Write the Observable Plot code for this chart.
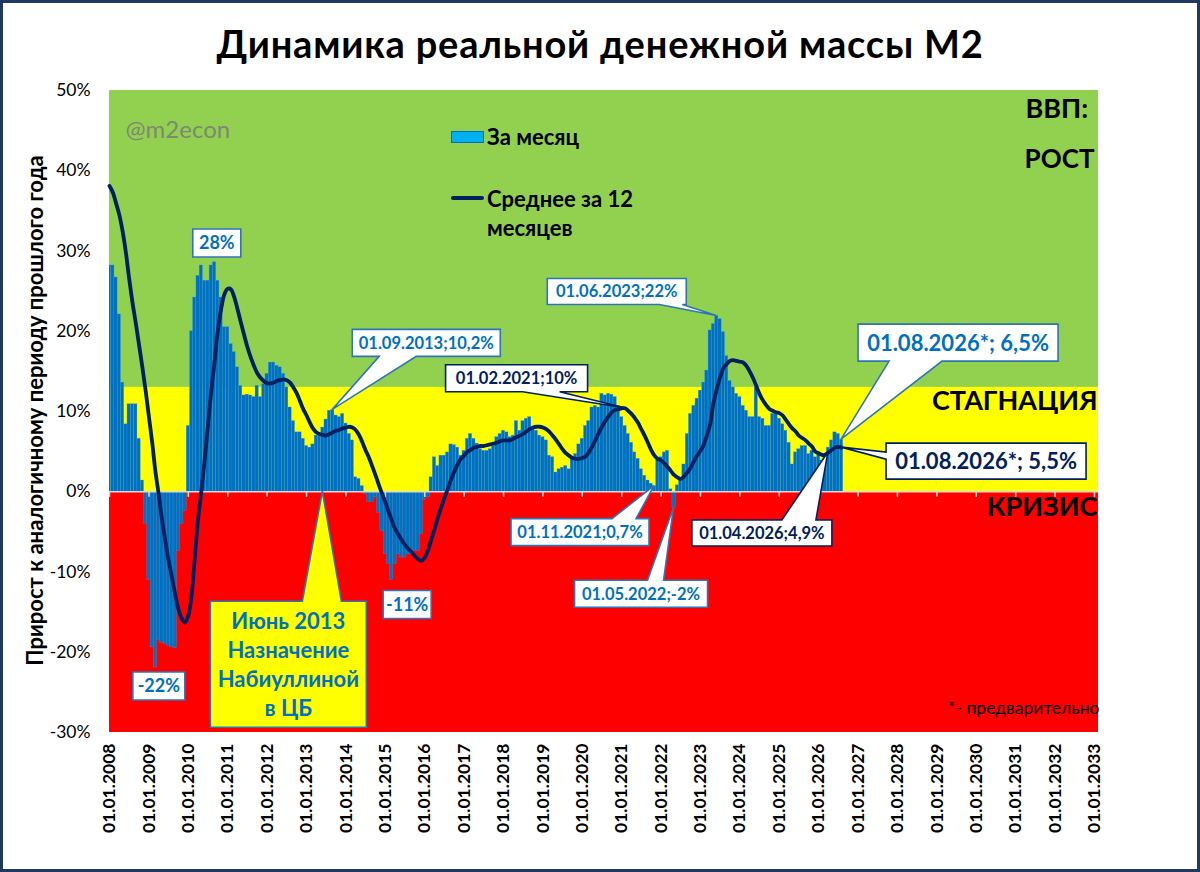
<!DOCTYPE html>
<html><head><meta charset="utf-8">
<script src="https://cdn.jsdelivr.net/npm/d3@7"></script>
<script src="https://cdn.jsdelivr.net/npm/@observablehq/plot@0.6"></script>
<style>
body{margin:0;background:#fff;}
#wrap{position:relative;width:1200px;height:872px;box-sizing:border-box;border:3px solid #1F3864;overflow:hidden;font-family:Lato,"Noto Sans",sans-serif;background:#fff;}
#chart{position:absolute;left:0;top:0;}
.abs{position:absolute;white-space:nowrap;}
#title{left:0;width:1194px;top:18px;text-align:center;font-weight:bold;font-size:38px;letter-spacing:0.8px;line-height:44px;color:#000;}
.lgtext{font-weight:bold;font-size:22px;line-height:24px;color:#000;}
</style></head>
<body><div id="wrap">
<div id="chart"></div>
<div class="abs" id="title">Динамика реальной денежной массы М2</div>
<div class="abs" style="left:448px;top:128px;width:33px;height:12px;background:#00B0F0;border:1px solid #0070C0;box-sizing:border-box;"></div>
<div class="abs lgtext" style="left:484px;top:122px;">За месяц</div>
<div class="abs" style="left:448px;top:193px;width:33px;height:4px;background:#002060;border-radius:2px;"></div>
<div class="abs lgtext" style="left:484px;top:184px;">Среднее за 12</div>
<div class="abs lgtext" style="left:484px;top:213px;">месяцев</div>
</div>
<script>
// ---- data: monthly real M2 growth, % y/y (bars) ----
const bars2008 = [28.2, 28.2, 26.7, 22.1, 13.6, 8.4, 10.9, 10.9, 10.9, 6.6, 1.4, -4.0];
const bars2009 = [-11.0, -19.4, -21.9, -18.5, -18.8, -19.0, -19.2, -19.4, -19.5, -7.4, -4.0, -2.4];
const bars2010 = [8.2, 20.0, 24.2, 26.9, 28.2, 26.3, 26.3, 28.2, 28.6, 26.3, 24.2, 20.5];
const bars2011 = [20.5, 18.4, 17.4, 15.5, 13.2, 12.0, 12.1, 12.0, 11.8, 13.2, 11.8, 13.4];
const bars2012 = [14.7, 16.1, 16.1, 15.7, 15.5, 14.7, 13.0, 10.5, 8.8, 7.4, 7.4, 6.6];
const bars2013 = [5.7, 5.5, 5.9, 7.0, 7.2, 8.0, 9.0, 10.1, 10.2, 9.5, 9.3, 9.7];
const bars2014 = [8.5, 7.2, 6.4, 1.8, 1.6, 0.7, -0.3, -1.3, -1.3, -0.7, -2.6, -4.9];
const bars2015 = [-7.8, -9.0, -11.0, -9.0, -7.8, -8.2, -8.2, -7.8, -7.8, -7.4, -7.4, -5.3];
const bars2016 = [-1.0, -0.7, 1.8, 4.3, 3.2, 4.5, 4.5, 4.9, 5.9, 5.8, 5.5, 4.5];
const bars2017 = [5.1, 6.6, 7.2, 6.6, 6.0, 5.3, 5.1, 5.1, 5.3, 5.7, 6.8, 7.2];
const bars2018 = [7.6, 7.4, 6.8, 7.0, 8.8, 7.6, 8.8, 9.1, 9.3, 8.0, 7.6, 7.0];
const bars2019 = [6.8, 6.4, 4.5, 4.3, 2.4, 2.8, 3.0, 3.2, 2.8, 4.1, 4.7, 5.9];
const bars2020 = [6.6, 8.2, 8.8, 10.5, 10.7, 10.5, 12.2, 12.0, 12.2, 12.1, 11.8, 10.7];
const bars2021 = [9.3, 8.2, 7.2, 6.1, 4.9, 4.1, 2.8, 2.0, 1.4, 1.0, 0.7, 3.9];
const bars2022 = [4.3, 4.9, 5.1, 0.3, -2.0, 0.8, 1.5, 3.4, 7.2, 9.7, 10.7, 11.6];
const bars2023 = [12.6, 13.6, 15.1, 20.1, 20.9, 21.9, 21.5, 19.9, 16.9, 13.8, 13.0, 12.2];
const bars2024 = [11.8, 10.7, 10.1, 9.3, 9.3, 13.0, 9.3, 9.1, 8.2, 8.2, 9.7, 9.7];
const bars2025 = [9.1, 8.4, 7.6, 6.1, 3.4, 4.9, 5.3, 5.7, 5.7, 4.7, 5.1, 4.3];
const bars2026 = [4.7, 3.9, 4.3, 5.5, 6.4, 7.4, 7.2, 6.5];

// ---- data: 12-month average (line) ----
const avg2008 = [38.1, 37.3, 36.0, 34.5, 32.5, 29.8, 26.6, 23.6, 21.0, 18.3, 15.5, 12.6];
const avg2009 = [9.3, 6.0, 2.6, -0.3, -3.4, -6.1, -8.5, -10.6, -12.8, -14.6, -15.8, -16.3];
const avg2010 = [-15.4, -12.8, -8.4, -3.5, 0.0, 3.9, 8.1, 12.5, 16.2, 20.0, 22.8, 24.6];
const avg2011 = [25.3, 25.2, 24.3, 22.8, 21.2, 19.6, 18.1, 16.8, 15.7, 14.8, 14.2, 13.8];
const avg2012 = [13.5, 13.5, 13.6, 13.8, 13.9, 14.0, 13.9, 13.6, 13.0, 12.3, 11.3, 10.3];
const avg2013 = [9.5, 8.6, 7.9, 7.4, 7.2, 7.1, 7.0, 7.2, 7.4, 7.6, 7.7, 7.9];
const avg2014 = [8.0, 8.1, 8.0, 7.7, 7.1, 6.2, 5.2, 4.3, 3.2, 2.1, 0.9, -0.2];
const avg2015 = [-1.3, -2.5, -3.5, -4.6, -5.3, -6.0, -6.6, -7.1, -7.5, -8.0, -8.4, -8.6];
const avg2016 = [-8.2, -7.3, -6.0, -4.7, -3.3, -2.0, -0.8, 0.3, 1.5, 2.5, 3.4, 4.1];
const avg2017 = [4.5, 5.0, 5.2, 5.5, 5.6, 5.7, 5.7, 5.8, 5.9, 6.0, 6.1, 6.3];
const avg2018 = [6.4, 6.4, 6.4, 6.6, 6.8, 7.0, 7.2, 7.5, 7.8, 8.0, 8.1, 8.1];
const avg2019 = [8.0, 7.8, 7.5, 7.0, 6.5, 5.9, 5.3, 4.8, 4.5, 4.2, 4.1, 4.1];
const avg2020 = [4.2, 4.4, 4.9, 5.6, 6.4, 7.3, 8.1, 8.8, 9.4, 9.9, 10.2, 10.3];
const avg2021 = [10.4, 10.4, 10.1, 9.7, 9.2, 8.6, 7.8, 7.0, 6.1, 5.2, 4.5, 4.1];
const avg2022 = [3.9, 3.5, 3.1, 2.6, 2.1, 1.8, 1.6, 1.9, 2.4, 3.0, 3.8, 4.5];
const avg2023 = [5.1, 5.9, 7.0, 8.4, 11.0, 12.8, 14.2, 15.4, 15.9, 16.3, 16.4, 16.3];
const avg2024 = [16.2, 16.1, 15.7, 15.0, 14.2, 13.2, 12.2, 11.4, 10.8, 10.3, 10.1, 9.9];
const avg2025 = [9.8, 9.5, 9.0, 8.4, 7.9, 7.5, 7.0, 6.7, 6.4, 6.0, 5.6, 5.0];
const avg2026 = [4.8, 4.6, 4.6, 4.9, 5.2, 5.5, 5.6, 5.5];

// ---- zones and axis ticks ----
const zoneLow = [13, 0, -30];
const zoneHigh = [50, 13, 0];
const zoneNames = ["РОСТ", "СТАГНАЦИЯ", "КРИЗИС"];
const yTicks = [-30, -20, -10, 0, 10, 20, 30, 40, 50];
const tickYears = d3.range(2008, 2034);

// ---- build tables ----
const startYear = 2008;
const monthDate = i => new Date(Date.UTC(startYear, i, 1));
const barData = [bars2008, bars2009, bars2010, bars2011, bars2012, bars2013, bars2014, bars2015, bars2016, bars2017,
  bars2018, bars2019, bars2020, bars2021, bars2022, bars2023, bars2024, bars2025, bars2026].flat()
  .map((v, i) => ({date: monthDate(i), v}));
const avgData = [avg2008, avg2009, avg2010, avg2011, avg2012, avg2013, avg2014, avg2015, avg2016, avg2017,
  avg2018, avg2019, avg2020, avg2021, avg2022, avg2023, avg2024, avg2025, avg2026].flat()
  .map((v, i) => ({date: monthDate(i), v}));
const yearDates = tickYears.map(y => new Date(Date.UTC(y, 0, 1)));
const zoneColors = ["#92D050", "#FFFF00", "#FF0000"];
const zones = zoneLow.map((lo, i) => ({lo, hi: zoneHigh[i], fill: zoneColors[i]}));
const dStart = yearDates[0], dEnd = yearDates[yearDates.length - 1];
const halfMonth = 15.2 * 864e5;
const md = (y, m) => new Date(Date.UTC(y, m - 1, 1));

// ---- annotations (tip anchored on data, box offset in px) ----
const LIGHT = {bg: "#fff", stroke: "#2E75B6", color: "#0070C0"};
const NAVY = {bg: "#fff", stroke: "#002060", color: "#002060"};
const callouts = [
  {...LIGHT, text: "28%", date: md(2010, 5), value: bars2010[4], box: [-8, -36, 40, -8], size: 18},
  {...LIGHT, text: "-22%", date: md(2009, 3), value: bars2009[2], box: [-22, 5, 30, 33], size: 18},
  {...LIGHT, text: "-11%", date: md(2015, 3), value: bars2015[2], box: [-8, 11, 40, 39], size: 18},
  {...LIGHT, text: "01.09.2013;10,2%", date: md(2013, 9), value: bars2013[8], box: [20, -80, 168, -53], ptr: ["bottom", 47, 84], size: 16.5},
  {...NAVY, text: "01.02.2021;10%", date: md(2021, 2), value: avg2021[1], box: [-179, -43, -37, -16], ptr: ["bottom", -102, -65], size: 16.5},
  {...LIGHT, text: "01.06.2023;22%", date: md(2023, 6), value: bars2023[5], box: [-169, -37, -30, -11], ptr: ["bottom", -57, -34], size: 16.5},
  {...LIGHT, text: "01.11.2021;0,7%", date: md(2021, 11), value: bars2021[10], box: [-143, 33, -5, 60], ptr: ["top", -42, -18], size: 16.5},
  {...LIGHT, text: "01.05.2022;-2%", date: md(2022, 5), value: bars2022[4], box: [-99, 73, 34, 100], ptr: ["top", -26, -10], size: 16.5},
  {...NAVY, text: "01.04.2026;4,9%", date: md(2026, 4), value: avg2026[3], box: [-136, 68, 4, 94], ptr: ["top", -46, -12], size: 16.5},
  {...LIGHT, text: "01.08.2026*; 6,5%", date: md(2026, 8), value: bars2026[7], box: [17, -115, 217, -78], ptr: ["bottom", 48, 101], size: 22},
  {...NAVY, text: "01.08.2026*; 5,5%", date: md(2026, 8), value: avg2026[7], box: [45, -4, 245, 32], ptr: ["left", 5, 12], size: 22},
  {bg: "#FFFF00", stroke: "#2E75B6", color: "#0070C0", text: "Июнь 2013\nНазначение\nНабиуллиной\nв ЦБ",
    date: md(2013, 6), value: 0, box: [-112, 110, 44, 236], ptr: ["top", -20, 19], size: 22, lh: 29}
];

function calloutMark(items) {
  return (index, scales) => {
    const g = d3.create("svg:g");
    for (const c of items) {
      const tx = scales.x(c.date), ty = scales.y(c.value);
      const x1 = tx + c.box[0], y1 = ty + c.box[1], x2 = tx + c.box[2], y2 = ty + c.box[3];
      let p = `M${x1},${y1}H${x2}V${y2}H${x1}Z`;
      if (c.ptr) {
        const [side, a, b] = c.ptr;
        if (side === "bottom") p = `M${x1},${y1}H${x2}V${y2}H${tx + b}L${tx},${ty}L${tx + a},${y2}H${x1}Z`;
        if (side === "top") p = `M${x1},${y1}H${tx + a}L${tx},${ty}L${tx + b},${y1}H${x2}V${y2}H${x1}Z`;
        if (side === "left") p = `M${x1},${y1}H${x2}V${y2}H${x1}V${ty + b}L${tx},${ty}L${x1},${ty + a}Z`;
      }
      g.append("path").attr("d", p).attr("fill", c.bg).attr("stroke", c.stroke).attr("stroke-width", 1.6);
      const lines = c.text.split("\n");
      const lh = c.lh || 0;
      const t = g.append("text").attr("text-anchor", "middle").attr("font-family", "Lato, 'Noto Sans', sans-serif")
        .attr("font-weight", "bold").attr("font-size", c.size).attr("fill", c.color);
      lines.forEach((s, k) => t.append("tspan").attr("x", (x1 + x2) / 2)
        .attr("y", (y1 + y2) / 2 + (k - (lines.length - 1) / 2) * lh).attr("dy", "0.36em").text(s));
    }
    return g.node();
  };
}

const FONT = "Lato, 'Noto Sans', sans-serif";

const chart = Plot.plot({
  width: 1194, height: 866,
  marginLeft: 106, marginTop: 87, marginRight: 99, marginBottom: 137,
  x: {type: "utc", domain: [dStart, dEnd], range: [106, 1091]},
  y: {domain: [-30, 50], range: [729, 87]},
  color: {type: "identity"},
  style: {fontFamily: FONT, background: "transparent", overflow: "visible", color: "#000"},
  marks: [
    Plot.rect(zones, {x1: () => dStart, x2: () => dEnd, y1: "lo", y2: "hi", fill: "fill", insetRight: -4}),
    Plot.rectY(barData, {x1: d => new Date(+d.date - halfMonth), x2: d => new Date(+d.date + halfMonth), y: "v",
      fill: "#0070C0", stroke: "#3A9FE0", strokeWidth: 0.3, clip: true}),
    Plot.ruleY([0], {stroke: "#D9D9D9", strokeWidth: 1.5}),
    Plot.ruleX(yearDates, {y1: 0, y2: -0.7, stroke: "#D9D9D9", strokeWidth: 1.5}),
    Plot.line(avgData, {x: "date", y: "v", stroke: "#002060", strokeWidth: 3.8, curve: "catmull-rom"}),
    Plot.axisX(yearDates, {anchor: "bottom", tickSize: 0, tickPadding: 11, tickRotate: -90,
      tickFormat: d => "01.01." + d.getUTCFullYear(), fontSize: 17.5, fontWeight: "bold", fill: "#000", label: null}),
    Plot.axisY(yTicks, {anchor: "left", tickSize: 0, tickPadding: 19, tickFormat: d => d + "%",
      fontSize: 17.5, fill: "#000", label: null}),
    Plot.text(["Прирост к аналогичному периоду прошлого года"], {frameAnchor: "left", dx: -74, dy: -1, rotate: -90,
      textAnchor: "middle", fontSize: 22, fontWeight: "bold", fill: "#000"}),
    Plot.text(["@m2econ"], {frameAnchor: "top-left", dx: 16, dy: 30, textAnchor: "start", fontSize: 24,
      fill: "#7a7a7a", fillOpacity: 0.85}),
    Plot.text(["ВВП:"], {y: 47.6, frameAnchor: "right", textAnchor: "start", dx: -73, fontSize: 27, fontWeight: "bold", fill: "#000"}),
    Plot.text([zoneNames[0]], {y: 41.4, frameAnchor: "right", textAnchor: "end", dx: -4, fontSize: 26, fontWeight: "bold", fill: "#000"}),
    Plot.text([zoneNames[1]], {y: 11.3, frameAnchor: "right", textAnchor: "end", dx: -1, fontSize: 27, fontWeight: "bold", fill: "#000"}),
    Plot.text([zoneNames[2]], {y: -2.0, frameAnchor: "right", textAnchor: "end", dx: -1, fontSize: 27, fontWeight: "bold", fill: "#000"}),
    Plot.text(["*- предварительно"], {frameAnchor: "bottom-right", textAnchor: "end", dx: 1, dy: -19, fontSize: 17.5, fill: "#000"}),
    calloutMark(callouts)
  ]
});
document.getElementById("chart").appendChild(chart);
</script>
</body></html>
